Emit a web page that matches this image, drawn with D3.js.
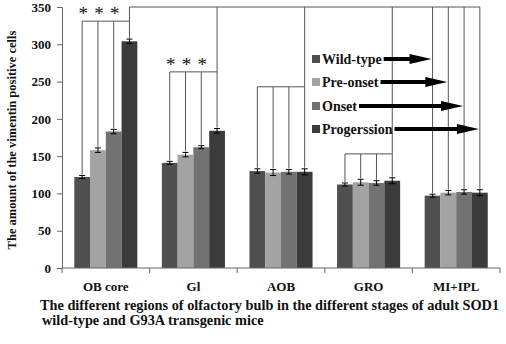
<!DOCTYPE html>
<html>
<head>
<meta charset="utf-8">
<script src="https://cdn.jsdelivr.net/npm/d3@7"></script>
<style>
  body { margin: 0; background: #fff; }
  text { font-family: "Liberation Serif", "Times New Roman", serif; font-weight: bold; fill: #111; }
</style>
</head>
<body>
<div id="chart"></div>
<script>
var regions = ["OB core", "Gl", "AOB", "GRO", "MI+IPL"];
var stages = ["Wild-type", "Pre-onset", "Onset", "Progerssion"];
var stageColors = ["#4f4f4f", "#a3a3a3", "#727272", "#3b3b3b"];

// mean values per region, one array per stage
var wildType   = [122, 141, 130, 112, 97];
var preOnset   = [158, 152, 128, 115, 101];
var onset      = [183, 162, 129, 114, 102];
var progerssion = [304, 184, 129, 117, 101];

var wildTypeErr   = [2, 2, 3, 2, 2];
var preOnsetErr   = [3, 3, 4, 4, 3];
var onsetErr      = [3, 2, 3, 3, 3];
var progerssionErr = [3, 3, 4, 4, 4];

// bracket level (in axis units) for each region, null = all bars go to the top line
var bracketLevel = [331, 263, 243, 153, null];
var starred = [true, true, false, false, false];
var topLevel = 350;

var yTicks = [0, 50, 100, 150, 200, 250, 300, 350];

var width = 506, height = 344;
var margin = {top: 7, right: 6, bottom: 76, left: 62};

var values = [wildType, preOnset, onset, progerssion];
var errors = [wildTypeErr, preOnsetErr, onsetErr, progerssionErr];

var svg = d3.select("#chart").append("svg")
    .attr("width", width)
    .attr("height", height);

var x0 = d3.scaleBand()
    .domain(regions)
    .range([margin.left, width - margin.right])
    .paddingInner(0.28)
    .paddingOuter(0.14);

var x1 = d3.scaleBand()
    .domain(stages)
    .range([0, x0.bandwidth()]);

var y = d3.scaleLinear()
    .domain([0, 350])
    .range([height - margin.bottom, margin.top]);

var step = x0.step();
var plotLeft = margin.left, plotRight = width - margin.right;

// bars
var groups = svg.append("g").selectAll("g")
    .data(regions)
    .enter().append("g")
    .attr("transform", function (d) { return "translate(" + x0(d) + ",0)"; });

groups.selectAll("rect")
    .data(function (d, i) {
        return stages.map(function (s, j) {
            return {stage: s, j: j, v: values[j][i], e: errors[j][i]};
        });
    })
    .enter().append("rect")
    .attr("x", function (d) { return x1(d.stage); })
    .attr("y", function (d) { return y(d.v); })
    .attr("width", x1.bandwidth())
    .attr("height", function (d) { return y(0) - y(d.v); })
    .attr("fill", function (d) { return stageColors[d.j]; });

// error bars
var eb = groups.selectAll("g.err")
    .data(function (d, i) {
        return stages.map(function (s, j) {
            return {stage: s, v: values[j][i], e: errors[j][i]};
        });
    })
    .enter().append("g").attr("class", "err")
    .attr("stroke", "#000").attr("stroke-width", 1);

eb.append("line")
    .attr("x1", function (d) { return x1(d.stage) + x1.bandwidth() / 2; })
    .attr("x2", function (d) { return x1(d.stage) + x1.bandwidth() / 2; })
    .attr("y1", function (d) { return y(d.v - d.e); })
    .attr("y2", function (d) { return y(d.v + d.e); });
[-1, 1].forEach(function (sgn) {
    eb.append("line")
        .attr("x1", function (d) { return x1(d.stage) + x1.bandwidth() / 2 - 3; })
        .attr("x2", function (d) { return x1(d.stage) + x1.bandwidth() / 2 + 3; })
        .attr("y1", function (d) { return y(d.v + sgn * d.e); })
        .attr("y2", function (d) { return y(d.v + sgn * d.e); });
});

// brackets and connector lines
var ann = svg.append("g").attr("stroke", "#555").attr("stroke-width", 1).attr("fill", "none");
var cx = function (r, s) { return x0(r) + x1(s) + x1.bandwidth() / 2; };
var lastTopX = 0, firstTopX = null;

regions.forEach(function (r, i) {
    var lvl = bracketLevel[i];
    stages.forEach(function (s, j) {
        var topV = values[j][i] + errors[j][i];
        var toTop = (lvl === null) || j === stages.length - 1;
        var end = toTop ? topLevel : lvl;
        ann.append("line")
            .attr("x1", cx(r, s)).attr("x2", cx(r, s))
            .attr("y1", y(topV) - 1).attr("y2", y(end));
        if (toTop) {
            if (firstTopX === null) firstTopX = cx(r, s);
            lastTopX = cx(r, s);
        }
    });
    if (lvl !== null) {
        ann.append("line")
            .attr("x1", cx(r, stages[0])).attr("x2", cx(r, stages[3]))
            .attr("y1", y(lvl)).attr("y2", y(lvl));
    }
    if (starred[i]) {
        stages.slice(0, 3).forEach(function (s) {
            svg.append("text")
                .attr("x", cx(r, s) + 1)
                .attr("y", y(lvl) - 1)
                .attr("text-anchor", "middle")
                .style("font-size", "19px")
                .style("font-weight", "normal")
                .text("*");
        });
    }
});
ann.append("line")
    .attr("x1", firstTopX).attr("x2", lastTopX)
    .attr("y1", y(topLevel)).attr("y2", y(topLevel));

// axes
var yAxis = svg.append("g")
    .attr("transform", "translate(" + plotLeft + ",0)")
    .call(d3.axisLeft(y).tickValues(yTicks).tickSize(5).tickPadding(6));
yAxis.select(".domain").attr("stroke", "#666");
yAxis.selectAll(".tick line").attr("stroke", "#666");
yAxis.selectAll("text").style("font-size", "13px").style("font-family", "Liberation Serif").attr("fill", "#111");

var xb = svg.append("g").attr("stroke", "#666");
xb.append("line")
    .attr("x1", plotLeft).attr("x2", plotRight)
    .attr("y1", y(0)).attr("y2", y(0));
d3.range(regions.length + 1).forEach(function (k) {
    var xx = plotLeft + k * step;
    xb.append("line").attr("x1", xx).attr("x2", xx)
        .attr("y1", y(0)).attr("y2", y(0) + 5);
});
svg.append("g").selectAll("text")
    .data(regions)
    .enter().append("text")
    .attr("x", function (d) { return x0(d) + x0.bandwidth() / 2; })
    .attr("y", y(0) + 23)
    .attr("text-anchor", "middle")
    .style("font-size", "13px")
    .text(function (d) { return d; });

// axis titles
svg.append("text")
    .attr("transform", "translate(16," + 140 + ") rotate(-90)")
    .attr("text-anchor", "middle")
    .style("font-size", "12.5px")
    .text("The amount of the vimentin positive cells");

svg.append("text")
    .attr("x", 40).attr("y", 310)
    .style("font-size", "14.3px")
    .text("The different regions of olfactory bulb in the different stages of adult SOD1");
svg.append("text")
    .attr("x", 42).attr("y", 325)
    .style("font-size", "14.3px")
    .text("wild-type and G93A transgenic mice");

// legend with arrows
var legendY = [59, 82, 106, 129];
var legend = svg.append("g");
stages.forEach(function (s, j) {
    var ly = legendY[j];
    legend.append("rect")
        .attr("x", 312).attr("y", ly - 4)
        .attr("width", 8).attr("height", 8)
        .attr("fill", stageColors[j]);
    var t = legend.append("text")
        .attr("x", 322).attr("y", ly + 5)
        .style("font-size", "14px")
        .text(s);
    var tx = 322 + t.node().getComputedTextLength() + 2;
    var tipX = cx(regions[regions.length - 1], s) - 1;
    var headLen = 22;
    legend.append("line")
        .attr("x1", tx).attr("x2", tipX - headLen + 2)
        .attr("y1", ly).attr("y2", ly)
        .attr("stroke", "#000").attr("stroke-width", 4);
    legend.append("path")
        .attr("d", "M" + (tipX - headLen) + "," + (ly - 5) +
            "L" + tipX + "," + ly +
            "L" + (tipX - headLen) + "," + (ly + 5) + "Z")
        .attr("fill", "#000");
});
</script>
</body>
</html>
